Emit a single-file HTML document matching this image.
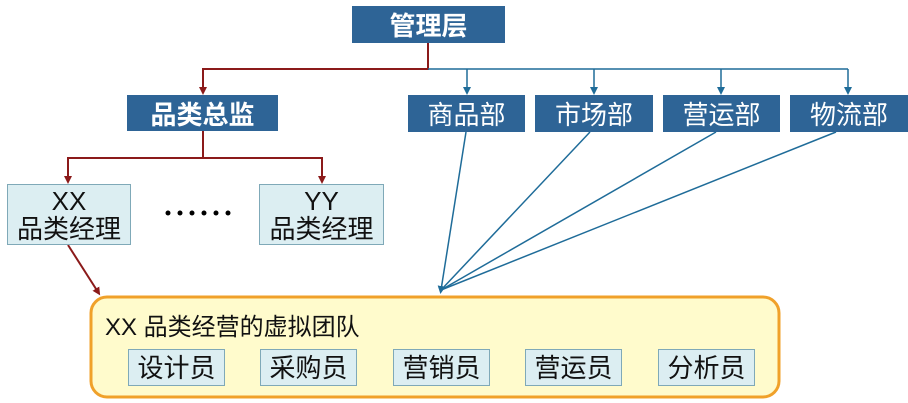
<!DOCTYPE html>
<html><head><meta charset="utf-8"><style>
body{margin:0;width:908px;height:403px;background:#fff;position:relative;overflow:hidden;font-family:"Liberation Sans","Noto Sans CJK SC",sans-serif}
.b{position:absolute;display:flex;align-items:center;justify-content:center;box-sizing:border-box}
.dk{background:#2e6496;color:#fff;font-size:26px}
.bold{font-weight:bold}
.lt{background:#dceef2;border:1px solid #7fa9b8;color:#111;font-size:26px;line-height:28px;text-align:center}
</style></head><body>
<svg width="908" height="403" style="position:absolute;left:0;top:0">
<defs>
<marker id="r" markerWidth="8" markerHeight="8" refX="4" refY="4" orient="auto" markerUnits="userSpaceOnUse"><path d="M0,0 L8,4 L0,8z" fill="#8b1a1a"/></marker>
<marker id="bl" markerWidth="8" markerHeight="8" refX="4" refY="4" orient="auto" markerUnits="userSpaceOnUse"><path d="M0,0 L8,4 L0,8z" fill="#1f6c99"/></marker>
</defs>
<g fill="none" stroke-width="2">
<path d="M428,43 V69 H203 V91" stroke="#8b1a1a" marker-end="url(#r)"/>
<path d="M203,131 V158 H68 V180" stroke="#8b1a1a" marker-end="url(#r)"/>
<path d="M203,158 H322 V180" stroke="#8b1a1a" marker-end="url(#r)"/>
<path d="M68,245 L98,292" stroke="#8b1a1a" marker-end="url(#r)"/>
</g>
<g fill="none" stroke="#1f6c99" stroke-width="1.5">
<path d="M428,69 H848"/>
<path d="M467,69 V91" marker-end="url(#bl)"/>
<path d="M594,69 V91" marker-end="url(#bl)"/>
<path d="M721,69 V91" marker-end="url(#bl)"/>
<path d="M848,69 V91" marker-end="url(#bl)"/>
<path d="M466,132 L441,290" marker-end="url(#bl)"/>
<path d="M590,132 L441,290"/>
<path d="M716,132 L441,290"/>
<path d="M836,132 L441,290"/>
</g>
<g fill="#000"><circle cx="168" cy="213" r="2.5"/><circle cx="180" cy="213" r="2.5"/><circle cx="192" cy="213" r="2.5"/><circle cx="204" cy="213" r="2.5"/><circle cx="216" cy="213" r="2.5"/><circle cx="228" cy="213" r="2.5"/></g>
<rect x="91" y="297" width="688" height="100" rx="16" fill="#fffbcc" stroke="#f0a12a" stroke-width="3"/>
</svg>
<div class="b dk bold" style="left:352px;top:6px;width:153px;height:37px">管理层</div>
<div class="b dk bold" style="left:127px;top:95px;width:151px;height:36px">品类总监</div>
<div class="b dk" style="left:408px;top:95px;width:117px;height:37px">商品部</div>
<div class="b dk" style="left:535px;top:95px;width:118px;height:37px">市场部</div>
<div class="b dk" style="left:663px;top:95px;width:117px;height:37px">营运部</div>
<div class="b dk" style="left:790px;top:95px;width:118px;height:37px">物流部</div>
<div class="b lt" style="left:7px;top:184px;width:124px;height:61px">XX<br>品类经理</div>
<div class="b lt" style="left:259px;top:184px;width:125px;height:61px">YY<br>品类经理</div>
<div style="position:absolute;left:105px;top:307px;font-size:24px;color:#111">XX 品类经营的虚拟团队</div>
<div class="b lt" style="left:128px;top:349px;width:97px;height:37px">设计员</div>
<div class="b lt" style="left:260px;top:349px;width:97px;height:37px">采购员</div>
<div class="b lt" style="left:393px;top:349px;width:97px;height:37px">营销员</div>
<div class="b lt" style="left:525px;top:349px;width:97px;height:37px">营运员</div>
<div class="b lt" style="left:658px;top:349px;width:97px;height:37px">分析员</div>
</body></html>
